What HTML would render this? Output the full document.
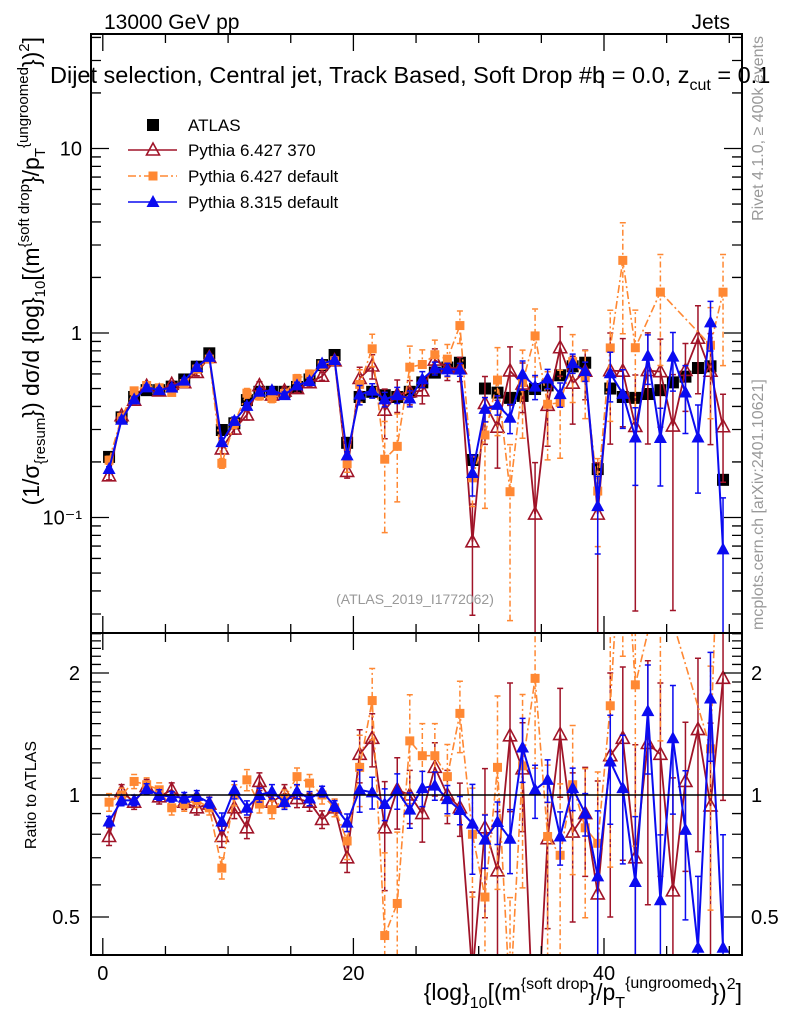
<!DOCTYPE html>
<html><head><meta charset="utf-8"><style>
html,body{margin:0;padding:0;background:#fff;overflow:hidden;}
svg{display:block;font-family:"Liberation Sans",sans-serif;}
</style></head><body>
<svg id="chart" width="786" height="1024" viewBox="0 0 786 1024">
<defs>
<clipPath id="cm"><rect x="91" y="34" width="651" height="599"/></clipPath>
<clipPath id="cr"><rect x="91" y="633" width="651" height="322"/></clipPath>
</defs>
<rect x="0" y="0" width="786" height="1024" fill="#fff"/>
<g id="marks-main" clip-path="url(#cm)"></g>
<g id="marks-ratio" clip-path="url(#cr)"></g>
<g id="axes"></g>
<text x="104" y="29" font-size="21">13000 GeV pp</text>
<text x="730" y="29" font-size="21" text-anchor="end">Jets</text>
<text x="50" y="83" font-size="23.5">Dijet selection, Central jet, Track Based, Soft Drop #b<tspan dx="-13">η</tspan> = 0.0, z<tspan font-size="16" dy="7">cut</tspan><tspan dy="-7"> = 0.1</tspan></text>
<text transform="translate(763,36) rotate(-90)" font-size="16" fill="#999" text-anchor="end">Rivet 4.1.0, ≥ 400k events</text>
<text transform="translate(763,630) rotate(-90)" font-size="16" fill="#999">mcplots.cern.ch [arXiv:2401.10621]</text>
<text x="415" y="604" font-size="14" fill="#999" text-anchor="middle">(ATLAS_2019_I1772062)</text>
<text transform="translate(39,37) rotate(-90)" font-size="23" text-anchor="end">(1/σ<tspan font-size="15" dy="6">{resum</tspan><tspan dy="-6">}) dσ/d {log}</tspan><tspan font-size="15" dy="6">10</tspan><tspan dy="-6">[(m</tspan><tspan font-size="15" dy="-10">{soft drop</tspan><tspan dy="10">}/p</tspan><tspan font-size="15" dy="6">T</tspan><tspan font-size="15" dy="-17">{ungroomed</tspan><tspan dy="11">})</tspan><tspan font-size="15" dy="-10">2</tspan><tspan dy="10">]</tspan></text>
<text transform="translate(36,795) rotate(-90)" font-size="16" text-anchor="middle">Ratio to ATLAS</text>
<text x="742" y="1000" font-size="23" text-anchor="end">{log}<tspan font-size="16" dy="8">10</tspan><tspan dy="-8">[(m</tspan><tspan font-size="16" dy="-11">{soft drop</tspan><tspan dy="11">}/p</tspan><tspan font-size="16" dy="8">T</tspan><tspan font-size="16" dy="-20">{ungroomed</tspan><tspan dy="12">})</tspan><tspan font-size="16" dy="-11">2</tspan><tspan dy="11">]</tspan></text>
<g id="legend"></g>
</svg>
<script>
const categories = [0.5,1.5,2.5,3.5,4.5,5.5,6.5,7.5,8.5,9.5,10.5,11.5,12.5,13.5,14.5,15.5,16.5,17.5,18.5,19.5,20.5,21.5,22.5,23.5,24.5,25.5,26.5,27.5,28.5,29.5,30.5,31.5,32.5,33.5,34.5,35.5,36.5,37.5,38.5,39.5,40.5,41.5,42.5,43.5,44.5,45.5,46.5,47.5,48.5,49.5];
const atlasValues = [0.213,0.349,0.45,0.49,0.49,0.512,0.56,0.657,0.776,0.298, 0.324,0.433,0.48,0.48,0.48,0.51,0.56,0.67,0.76,0.254, 0.45,0.48,0.46,0.45,0.48,0.54,0.61,0.65,0.69,0.205, 0.50,0.475,0.445,0.456,0.497,0.52,0.59,0.66,0.69,0.183, 0.50,0.45,0.445,0.467,0.49,0.54,0.58,0.646,0.66,0.16];
const py8Ratio = [0.86,0.97,0.97,1.035,1.0,0.99,0.985,0.995,0.957,0.86, 1.03,0.93,1.0,1.02,0.96,1.02,0.98,1.02,0.94,0.855, 1.03,1.015,0.95,1.025,0.92,1.04,1.055,0.977,0.918,0.85, 0.776,0.858,0.78,1.31,1.03,1.09,0.79,1.04,0.90,0.63, 1.21,1.04,0.61,1.61,0.55,1.38,0.82,0.42,1.73,0.42];
const py6tuneRatio = [0.79,1.02,0.96,1.05,0.99,1.03,0.96,0.93,0.95,0.79, 0.93,0.83,1.08,0.96,1.01,0.98,0.96,0.87,0.93,0.70, 1.26,1.38,0.83,1.03,1.0,0.90,1.17,1.0,0.93,0.36, 0.83,0.65,1.40,1.16,0.21,0.78,1.41,0.81,0.90,0.57, 1.25,1.38,0.70,1.34,1.26,0.58,1.08,1.45,0.94,1.94];
const py6defRatio = [0.96,1.0,1.08,1.06,1.03,0.93,0.95,0.97,0.93,0.66, 1.0,1.09,0.95,0.92,0.98,1.11,1.07,1.0,0.93,0.77, 1.17,1.71,0.45,0.54,1.36,1.25,1.25,1.11,1.59,0.80, 0.56,1.17,0.31,1.18,1.94,0.79,0.71,1.06,0.83,0.76, 1.66,5.5,1.87,null,3.4,null,null,null,1.3,10.4];
const py8Err = [0.03,0.03,0.03,0.03,0.03,0.03,0.03,0.03,0.03,0.05, 0.05,0.04,0.04,0.04,0.04,0.04,0.04,0.03,0.03,0.05, 0.12,0.09,0.09,0.1,0.1,0.1,0.08,0.08,0.08,0.25, 0.15,0.12,0.18,0.18,0.15,0.12,0.15,0.12,0.12,0.45, 0.3,0.35,0.45,0.3,0.45,0.35,0.4,0.5,0.3,0.9];
const py6tuneErr = [0.05,0.04,0.04,0.04,0.04,0.04,0.04,0.04,0.04,0.06, 0.06,0.06,0.05,0.05,0.05,0.05,0.05,0.05,0.05,0.08, 0.15,0.15,0.3,0.2,0.15,0.15,0.15,0.15,0.15,0.6, 0.4,0.4,0.35,0.3,0.9,0.4,0.3,0.4,0.3,0.9, 0.6,0.5,0.9,0.6,0.5,0.9,0.4,0.5,0.6,0.5];
const py6defErr = [0.05,0.04,0.04,0.04,0.04,0.04,0.04,0.04,0.04,0.06, 0.06,0.06,0.05,0.05,0.05,0.05,0.05,0.05,0.05,0.1, 0.2,0.2,0.6,0.5,0.3,0.2,0.2,0.2,0.2,0.3, 0.6,0.5,0.8,0.5,0.4,0.5,0.5,0.4,0.4,0.5, 0.6,0.6,0.6,0.6,0.6,0.6,0.6,0.6,0.6,0.6];
const mainTickLabels = ["10","1","10⁻¹"];
const mainTickValues = [10,1,0.1];
const ratioTickValues = [2,1,0.5];
const ratioTickLabels = ["2","1","0.5"];
const xTickValues = [0,20,40];
const xTickLabels = ["0","20","40"];

const NS="http://www.w3.org/2000/svg";
const X=v=>102.8+12.53*v;
const YM=v=>333-184.5*Math.log10(v);
const YR=r=>795-122*Math.log2(r);
function mk(tag,attrs,parent){const e=document.createElementNS(NS,tag);for(const k in attrs)e.setAttribute(k,attrs[k]);parent.appendChild(e);return e;}
const gm=document.getElementById('marks-main'),gr=document.getElementById('marks-ratio'),ga=document.getElementById('axes'),gl=document.getElementById('legend');

const series=[
 {name:'pythia-6-427-370',ratio:py6tuneRatio,err:py6tuneErr,color:'#a01428',marker:'otri',dash:null,w:1.8},
 {name:'pythia-6-427-default',ratio:py6defRatio,err:py6defErr,color:'#ff8833',marker:'sq',dash:'8,3,2,3',w:1.6},
 {name:'pythia-8-315-default',ratio:py8Ratio,err:py8Err,color:'#0b0bf0',marker:'tri',dash:null,w:2}
];
function marker(g,type,x,y,color,name){
 let e;
 if(type==='sq'){e=mk('rect',{x:x-4.5,y:y-4.5,width:9,height:9,fill:color},g);}
 else if(type==='bsq'){e=mk('rect',{x:x-6,y:y-6,width:12,height:12,fill:'#000'},g);}
 else if(type==='tri'){e=mk('polygon',{points:`${x},${y-7} ${x-6.5},${y+5} ${x+6.5},${y+5}`,fill:color},g);}
 else {e=mk('polygon',{points:`${x},${y-7} ${x-6.5},${y+5} ${x+6.5},${y+5}`,fill:'none',stroke:color,'stroke-width':1.6},g);}
 
 
}
atlasValues.forEach((v,i)=>{marker(gm,'bsq',X(categories[i]),YM(v),'#000','atlas-point');});
series.forEach(s=>{
 const ptsM=[],ptsR=[];
 s.ratio.forEach((r,i)=>{if(r===null)return;const v=r*atlasValues[i];ptsM.push([X(categories[i]),YM(v),v,r,i]);ptsR.push([X(categories[i]),YR(r)]);});
 [[gm,ptsM,'main'],[gr,ptsR,'ratio']].forEach(([g,pts,p])=>{
  const a={points:pts.map(q=>q[0]+','+q[1]).join(' '),fill:'none',stroke:s.color,'stroke-width':s.w};
  if(s.dash)a['stroke-dasharray']=s.dash;
  const l=mk('polyline',a,g);
  
  
 });
 ptsM.forEach(q=>{
  const [x,y,v,r,i]=q;const e=s.err[i];
  const lo=Math.max(v*(1-e),1e-4),hi=v*(1+e);
  const rlo=Math.max(r*(1-e),1e-4),rhi=r*(1+e);
  [[gm,YM(lo),YM(hi),y,'main'],[gr,YR(rlo),YR(rhi),YR(r),'ratio']].forEach(([g,y1,y2,yc,p])=>{
   const a={stroke:s.color,'stroke-width':1.5};if(s.dash)a['stroke-dasharray']='6,3,2,3';
   const eb=mk('path',Object.assign({d:`M${x},${y1}V${y2}M${x-3},${y1}h6M${x-3},${y2}h6`,fill:'none'},a),g);
   
   
   marker(g,s.marker,x,yc,s.color,s.name+'-'+p+'-point');
  });
 });
});
const one=mk('line',{x1:91,x2:742,y1:YR(1),y2:YR(1),stroke:'#000','stroke-width':1.5},ga);


[[34,633,'main-frame'],[633,955,'ratio-frame']].forEach(([t,b,n])=>{
 const r=mk('rect',{x:91,y:t,width:651,height:b-t,fill:'none',stroke:'#000','stroke-width':2},ga);
 
 
});
let d='';
for(let v=0;v<=50;v+=5){const x=X(v);const L=(v%20===0)?17:9;d+=`M${x},34v${L}M${x},633v-${L}M${x},633v${L}M${x},955v-${L}`;}
for(let e=-2;e<=1;e++){for(let m=1;m<=9;m++){const v=m*Math.pow(10,e);const y=YM(v);if(y<34||y>633)continue;const L=m===1?18:10;d+=`M91,${y}h${L}M742,${y}h-${L}`;}}
for(let k=5;k<=25;k++){const r=k/10;const y=YR(r);if(y<633||y>955)continue;const L=(k===5||k===10||k===20)?18:10;d+=`M91,${y}h${L}M742,${y}h-${L}`;}
const tk=mk('path',{d:d,stroke:'#000','stroke-width':1.3,fill:'none'},ga);


mainTickValues.forEach((v,i)=>{const t=mk('text',{x:82,y:YM(v)+7,'font-size':20,'text-anchor':'end'},ga);t.textContent=mainTickLabels[i];
 
 });
ratioTickValues.forEach((v,i)=>{
 const t=mk('text',{x:80,y:YR(v)+7,'font-size':20,'text-anchor':'end'},ga);t.textContent=ratioTickLabels[i];
 
 
 const t2=mk('text',{x:751,y:YR(v)+7,'font-size':20},ga);t2.textContent=ratioTickLabels[i];
 
 });
xTickValues.forEach((v,i)=>{const t=mk('text',{x:X(v),y:980,'font-size':20,'text-anchor':'middle'},ga);t.textContent=xTickLabels[i];
 
 });
const leg=[['ATLAS','bsq','#000',null,false],['Pythia 6.427 370','otri','#a01428',null,true],['Pythia 6.427 default','sq','#ff8833','8,3,2,3',true],['Pythia 8.315 default','tri','#0b0bf0',null,true]];
const ly=[125,150,176,202];
leg.forEach((L,i)=>{
 const g=mk('g',{},gl);
 
 
 if(L[4]){const a={x1:128,x2:177,y1:ly[i],y2:ly[i],stroke:L[2],'stroke-width':1.6};if(L[3])a['stroke-dasharray']=L[3];mk('line',a,g);}
 marker(g,L[1],153,ly[i],L[2],'legend-marker');
 const t=mk('text',{x:188,y:ly[i]+6,'font-size':17},g);t.textContent=L[0];
 
 
});
</script>
</body></html>
